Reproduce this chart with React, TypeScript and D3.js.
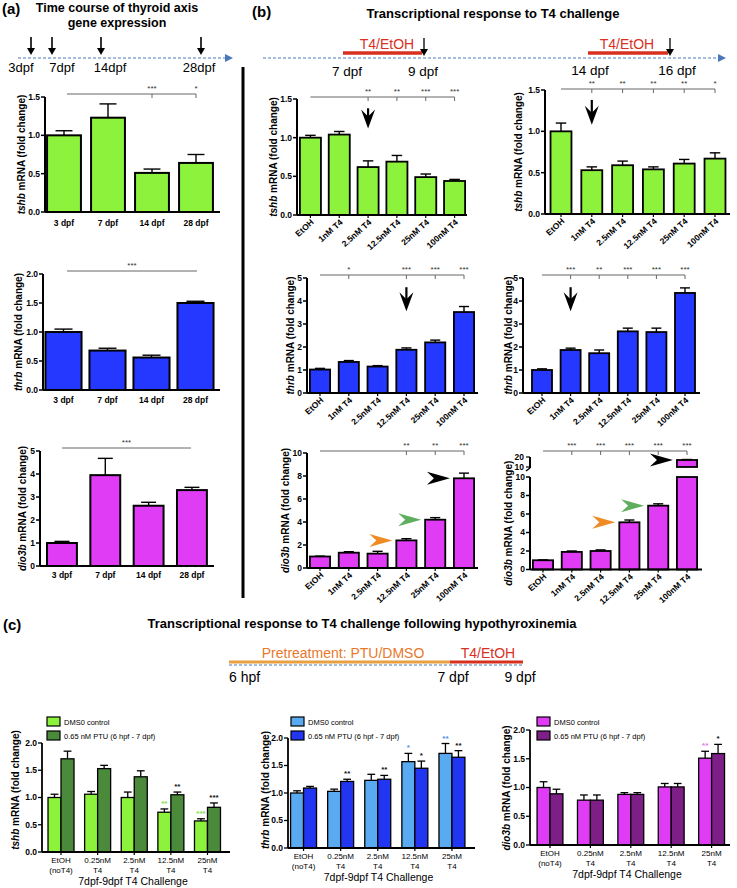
import React from "react";
import * as d3 from "d3";

const FONT = "'Liberation Sans', Arial, Helvetica, sans-serif";

// ---------- colours ----------
const GREEN = "#8cf23c";
const BLUE = "#2438ff";
const MAGENTA = "#e03cf5";
const DKGREEN = "#4b8a3b";
const LTBLUE = "#5aaaf2";
const DKBLUE = "#2235f0";
const PURPLE = "#7d1f87";
const ORANGE = "#f08a24";
const ARROWGREEN = "#5fae5f";
const RED = "#d7301f";
const TLBLUE = "#4a78b8";

// ---------- data (a) ----------
const timeCats = ["3 dpf", "7 dpf", "14 dpf", "28 dpf"];
const timelineA = ["3dpf", "7dpf", "14dpf", "28dpf"];
const aTshb = [1.0, 1.23, 0.51, 0.64];
const aTshbErr = [0.06, 0.18, 0.05, 0.11];
const aTshbSig = [null, null, "***", "*"];
const aThrb = [1.0, 0.68, 0.56, 1.5];
const aThrbErr = [0.05, 0.04, 0.04, 0.03];
const aDio3b = [1.0, 3.95, 2.62, 3.3];
const aDio3bErr = [0.07, 0.73, 0.15, 0.12];

// ---------- data (b) ----------
const doseCats = ["EtOH", "1nM T4", "2.5nM T4", "12.5nM T4", "25nM T4", "100nM T4"];
const b7Tshb = [1.0, 1.04, 0.62, 0.69, 0.49, 0.44];
const b7TshbErr = [0.03, 0.04, 0.08, 0.08, 0.04, 0.02];
const b7TshbSig = [null, null, "**", "**", "***", "***"];
const b14Tshb = [1.0, 0.53, 0.59, 0.54, 0.61, 0.67];
const b14TshbErr = [0.1, 0.04, 0.05, 0.03, 0.05, 0.07];
const b14TshbSig = [null, "**", "**", "**", "**", "*"];
const b7Thrb = [1.02, 1.35, 1.15, 1.88, 2.2, 3.52];
const b7ThrbErr = [0.05, 0.06, 0.04, 0.08, 0.1, 0.24];
const b7ThrbSig = [null, "*", null, "***", "***", "***"];
const b14Thrb = [1.0, 1.87, 1.73, 2.68, 2.65, 4.35];
const b14ThrbErr = [0.05, 0.08, 0.14, 0.14, 0.17, 0.22];
const b14ThrbSig = [null, "***", "**", "***", "***", "***"];
const b7Dio3b = [1.0, 1.33, 1.25, 2.4, 4.2, 7.8];
const b7Dio3bErr = [0.03, 0.09, 0.2, 0.15, 0.18, 0.45];
const b7Dio3bSig = [null, null, null, "**", "**", "***"];
const b14Dio3b = [1.0, 1.9, 2.0, 5.1, 6.9, 17.0];
const b14Dio3bErr = [0.04, 0.1, 0.12, 0.25, 0.2, 0.5];
const b14Dio3bSig = [null, "***", "***", "***", "***", "***"];

// ---------- data (c) ----------
const challengeCats = [["EtOH", "(noT4)"], ["0.25nM", "T4"], ["2.5nM", "T4"], ["12.5nM", "T4"], ["25nM", "T4"]];
const legendLabels = ["DMS0 control", "0.65 nM PTU (6 hpf - 7 dpf)"];
const cTshbCtrl = [1.0, 1.06, 1.0, 0.73, 0.57];
const cTshbCtrlErr = [0.06, 0.05, 0.1, 0.06, 0.04];
const cTshbPtu = [1.71, 1.53, 1.38, 1.05, 0.82];
const cTshbPtuErr = [0.14, 0.06, 0.11, 0.05, 0.08];
const cTshbCtrlSig = [null, null, null, "**", "***"];
const cTshbPtuSig = [null, null, null, "**", "***"];
const cThrbCtrl = [1.0, 1.03, 1.23, 1.57, 1.72];
const cThrbCtrlErr = [0.04, 0.04, 0.11, 0.15, 0.18];
const cThrbPtu = [1.09, 1.21, 1.25, 1.45, 1.65];
const cThrbPtuErr = [0.03, 0.04, 0.07, 0.13, 0.12];
const cThrbCtrlSig = [null, null, null, "*", "**"];
const cThrbPtuSig = [null, "**", "**", "*", "**"];
const cDio3bCtrl = [1.0, 0.78, 0.88, 1.01, 1.51];
const cDio3bCtrlErr = [0.1, 0.09, 0.03, 0.06, 0.12];
const cDio3bPtu = [0.89, 0.78, 0.88, 1.01, 1.59];
const cDio3bPtuErr = [0.08, 0.09, 0.03, 0.06, 0.16];
const cDio3bCtrlSig = [null, null, null, null, "**"];
const cDio3bPtuSig = [null, null, null, null, "*"];

const ticks15 = [0, 0.5, 1.0, 1.5];
const ticks20 = [0, 0.5, 1.0, 1.5, 2.0];
const ticks5 = [0, 1, 2, 3, 4, 5];
const ticks10 = [0, 2, 4, 6, 8, 10];

type Sig = (string | null)[];

function DownArrow({ x, y1, y2 }: { x: number; y1: number; y2: number }) {
  const h = 17;
  return (
    <g>
      <line x1={x} x2={x} y1={y1} y2={y2 - 10} stroke="#000" strokeWidth={2.2} />
      <path d={`M${x},${y2} L${x - 7},${y2 - h - 2} L${x},${y2 - h + 5} L${x + 7},${y2 - h - 2} Z`} fill="#000" />
    </g>
  );
}

function RightArrow({ x, y, color }: { x: number; y: number; color: string }) {
  const L = 23, hh = 6.5;
  return <path d={`M${x},${y} L${x - L},${y - hh} L${x - L + 7},${y} L${x - L},${y + hh} Z`} fill={color} />;
}

function TimeArrow({ x, y1, y2, w = 1.6 }: { x: number; y1: number; y2: number; w?: number }) {
  return (
    <g>
      <line x1={x} x2={x} y1={y1} y2={y2 - 6} stroke="#000" strokeWidth={w} />
      <path d={`M${x - 4},${y2 - 7} L${x + 4},${y2 - 7} L${x},${y2} Z`} fill="#000" />
    </g>
  );
}

function YLabel({ x, cy, gene, fs = 10 }: { x: number; cy: number; gene: string; fs?: number }) {
  return (
    <text transform={`translate(${x},${cy}) rotate(-90)`} textAnchor="middle" fontSize={fs} fontWeight="bold">
      <tspan fontStyle="italic">{gene}</tspan> mRNA (fold change)
    </text>
  );
}

interface BarCfg {
  cats: string[]; vals: number[]; errs: number[]; color: string;
  axisX: number; xr: [number, number]; pad: number; xEnd: number;
  y0: number; yTop: number; yMax: number; ticks: number[]; dec: number;
  gene: string; labelX: number; labelCy?: number;
  rot?: boolean; catY: number; stroke: number;
  sig?: Sig; sigY?: number; sigStart?: number; sigEnd?: number; sigCenter?: string;
  brk?: { min: number; max: number; bottom: number; top: number; ticks: number[] };
  down?: { cat: number; from: number; to: number };
  rights?: { cat: number; color: string }[];
}

function BarChart(p: BarCfg) {
  const x = d3.scaleBand<string>().domain(p.cats).range(p.xr).paddingInner(p.pad).paddingOuter(p.pad / 2);
  const yLow = d3.scaleLinear().domain([0, p.yMax]).range([p.y0, p.yTop]);
  const yUp = p.brk ? d3.scaleLinear().domain([p.brk.min, p.brk.max]).range([p.brk.bottom, p.brk.top]) : null;
  const ym = (v: number) => (yUp && v > p.yMax ? yUp(v) : yLow(v));
  const bw = x.bandwidth();
  const cx = (i: number) => (x(p.cats[i]) as number) + bw / 2;
  const cap = bw * 0.5;
  const fmt = (v: number) => v.toFixed(p.dec);
  const sigIdx = (p.sig || []).map((s, i) => (s ? i : -1)).filter((i) => i >= 0);
  const sStart = p.sigStart ?? cx(0);
  const sEnd = p.sigEnd ?? (sigIdx.length ? cx(sigIdx[sigIdx.length - 1]) : cx(p.cats.length - 1));
  return (
    <g>
      {p.vals.map((v, i) => {
        const x0 = x(p.cats[i]) as number;
        if (yUp && p.brk && v > p.yMax) {
          return (
            <g key={i}>
              <rect x={x0} y={yLow(p.yMax)} width={bw} height={p.y0 - yLow(p.yMax)} fill={p.color} stroke="#000" strokeWidth={p.stroke} />
              <rect x={x0} y={yUp(v)} width={bw} height={yUp(p.brk.min) - yUp(v)} fill={p.color} stroke="#000" strokeWidth={p.stroke} />
              <rect x={x0 - 2} y={yUp(p.brk.min) + 1} width={bw + 4} height={yLow(p.yMax) - yUp(p.brk.min) - 2} fill="#fff" />
            </g>
          );
        }
        return <rect key={i} x={x0} y={yLow(v)} width={bw} height={p.y0 - yLow(v)} fill={p.color} stroke="#000" strokeWidth={p.stroke} />;
      })}
      {p.vals.map((v, i) => {
        const top = ym(v + p.errs[i]);
        return (
          <g key={i} stroke="#000" strokeWidth={1.4}>
            <line x1={cx(i)} x2={cx(i)} y1={ym(v)} y2={top} />
            <line x1={cx(i) - cap / 2} x2={cx(i) + cap / 2} y1={top} y2={top} />
          </g>
        );
      })}
      <line x1={p.axisX} x2={p.axisX} y1={p.y0} y2={p.yTop} stroke="#000" strokeWidth={2} />
      {p.ticks.map((t) => (
        <g key={t}>
          <line x1={p.axisX - 4} x2={p.axisX} y1={yLow(t)} y2={yLow(t)} stroke="#000" strokeWidth={1.5} />
          <text x={p.axisX - 5} y={yLow(t)} dy="0.35em" textAnchor="end" fontSize={8.5} fontWeight="bold">{fmt(t)}</text>
        </g>
      ))}
      {p.brk && yUp && (
        <g>
          <line x1={p.axisX} x2={p.axisX} y1={yUp(p.brk.min) + 1} y2={yUp(p.brk.max)} stroke="#000" strokeWidth={2} />
          <line x1={p.axisX} x2={p.axisX - 4} y1={yUp(p.brk.min) + 1} y2={yUp(p.brk.min) + 4} stroke="#000" strokeWidth={1.5} />
          {p.brk.ticks.map((t) => (
            <g key={t}>
              <line x1={p.axisX - 4} x2={p.axisX} y1={yUp(t)} y2={yUp(t)} stroke="#000" strokeWidth={1.2} />
              <text x={p.axisX - 6} y={yUp(t)} dy="0.35em" textAnchor="end" fontSize={8.5} fontWeight="bold">{fmt(t)}</text>
            </g>
          ))}
        </g>
      )}
      <line x1={p.axisX} x2={p.xEnd} y1={p.y0} y2={p.y0} stroke="#000" strokeWidth={2} />
      {p.cats.map((c, i) =>
        p.rot ? (
          <g key={c}>
            <line x1={cx(i)} x2={cx(i)} y1={p.y0} y2={p.y0 + 3} stroke="#000" strokeWidth={1.2} />
            <text transform={`translate(${cx(i) + 4},${p.y0 + 8}) rotate(-42)`} textAnchor="end" fontSize={8.5} fontWeight="bold">{c}</text>
          </g>
        ) : (
          <text key={c} x={cx(i)} y={p.catY} textAnchor="middle" fontSize={8.5} fontWeight="bold">{c}</text>
        )
      )}
      <YLabel x={p.labelX} cy={p.labelCy ?? (p.y0 + p.yTop) / 2} gene={p.gene} />
      {p.sigY !== undefined && (
        <g>
          <line x1={sStart} x2={sEnd} y1={p.sigY} y2={p.sigY} stroke="#666" strokeWidth={1} />
          {p.sigCenter && (
            <text x={(sStart + sEnd) / 2} y={p.sigY - 3} textAnchor="middle" fontSize={8} fill="#333">{p.sigCenter}</text>
          )}
          {sigIdx.map((i) => (
            <g key={i}>
              <line x1={cx(i)} x2={cx(i)} y1={p.sigY!} y2={p.sigY! + 4} stroke="#666" strokeWidth={1} />
              <text x={cx(i)} y={p.sigY! - 3} textAnchor="middle" fontSize={8} fill="#333">{p.sig![i]}</text>
            </g>
          ))}
        </g>
      )}
      {p.down && <DownArrow x={cx(p.down.cat)} y1={yLow(p.down.from)} y2={yLow(p.down.to)} />}
      {p.rights &&
        p.rights.map((r) => (
          <RightArrow key={r.cat} x={(x(p.cats[r.cat]) as number) - 4} y={ym(p.vals[r.cat])} color={r.color} />
        ))}
    </g>
  );
}

interface GroupCfg {
  a: number[]; ae: number[]; b: number[]; be: number[];
  ca: string; cb: string; sa: Sig; sb: Sig; starColor: string;
  axisX: number; xr: [number, number]; pad: number; xEnd: number;
  y0: number; yTop: number; gene: string; labelX: number; labelCy: number;
  legX: number; legY: number;
}

function GroupChart(p: GroupCfg) {
  const keys = challengeCats.map((c) => c.join(" "));
  const x = d3.scaleBand<string>().domain(keys).range(p.xr).paddingInner(p.pad).paddingOuter(p.pad / 2);
  const xi = d3.scaleBand<string>().domain(["a", "b"]).range([0, x.bandwidth()]);
  const y = d3.scaleLinear().domain([0, 2]).range([p.y0, p.yTop]);
  const bw = xi.bandwidth();
  const series = [
    { k: "a", v: p.a, e: p.ae, c: p.ca, s: p.sa, sc: p.starColor },
    { k: "b", v: p.b, e: p.be, c: p.cb, s: p.sb, sc: "#111" },
  ];
  return (
    <g>
      {series.map((s) =>
        s.v.map((v, i) => {
          const x0 = (x(keys[i]) as number) + (xi(s.k) as number);
          const c = x0 + bw / 2;
          const top = y(v + s.e[i]);
          return (
            <g key={s.k + i}>
              <line x1={c} x2={c} y1={y(v)} y2={top} stroke="#000" strokeWidth={1.3} />
              <line x1={c - bw * 0.3} x2={c + bw * 0.3} y1={top} y2={top} stroke="#000" strokeWidth={1.3} />
              <rect x={x0} y={y(v)} width={bw} height={p.y0 - y(v)} fill={s.c} stroke="#000" strokeWidth={1.3} />
              {s.s[i] && (
                <text x={c} y={top - 3} textAnchor="middle" fontSize={8} fontWeight="bold" fill={s.sc}>{s.s[i]}</text>
              )}
            </g>
          );
        })
      )}
      <line x1={p.axisX} x2={p.axisX} y1={p.y0} y2={p.yTop} stroke="#000" strokeWidth={1.8} />
      {ticks20.map((t) => (
        <g key={t}>
          <line x1={p.axisX - 4} x2={p.axisX} y1={y(t)} y2={y(t)} stroke="#000" strokeWidth={1.3} />
          <text x={p.axisX - 5} y={y(t)} dy="0.35em" textAnchor="end" fontSize={8.5} fontWeight="bold">{t.toFixed(1)}</text>
        </g>
      ))}
      <line x1={p.axisX} x2={p.xEnd} y1={p.y0} y2={p.y0} stroke="#000" strokeWidth={1.8} />
      {challengeCats.map((c, i) => {
        const cx = (x(keys[i]) as number) + x.bandwidth() / 2;
        return (
          <g key={i}>
            <line x1={cx} x2={cx} y1={p.y0} y2={p.y0 + 3} stroke="#000" strokeWidth={1.2} />
            <text x={cx} y={p.y0 + 11} textAnchor="middle" fontSize={8}>{c[0]}</text>
            <text x={cx} y={p.y0 + 21} textAnchor="middle" fontSize={8}>{c[1]}</text>
          </g>
        );
      })}
      <text x={(p.axisX + p.xEnd) / 2 - 3} y={p.y0 + 33} textAnchor="middle" fontSize={10.5}>7dpf-9dpf T4 Challenge</text>
      <YLabel x={p.labelX} cy={p.labelCy} gene={p.gene} />
      {[p.ca, p.cb].map((c, i) => (
        <g key={c}>
          <rect x={p.legX} y={p.legY + i * 14} width={13} height={9} fill={c} stroke="#000" strokeWidth={1.2} />
          <text x={p.legX + 17} y={p.legY + i * 14 + 8} fontSize={7.5}>{legendLabels[i]}</text>
        </g>
      ))}
    </g>
  );
}

const aArrowX = [31, 52, 101, 201];
const aLabelX = [21, 62, 110, 199];

export default function App() {
  return (
    <svg width={737} height={888} style={{ position: "absolute", left: 0, top: 0, background: "#fff" }} fontFamily={FONT}>
      <rect width={737} height={888} fill="#fff" />

      {/* ===== (a) ===== */}
      <text x={2} y={14} fontSize={15} fontWeight="bold">(a)</text>
      <text x={117} y={12} textAnchor="middle" fontSize={12.5} fontWeight="bold">Time course of thyroid axis</text>
      <text x={117} y={27} textAnchor="middle" fontSize={12.5} fontWeight="bold">gene expression</text>
      <line x1={18} x2={226} y1={58} y2={58} stroke={TLBLUE} strokeWidth={1} strokeDasharray="3,2" />
      <path d="M225,54 L233,58 L225,62 Z" fill={TLBLUE} />
      {aArrowX.map((x) => <TimeArrow key={x} x={x} y1={37} y2={55} />)}
      {timelineA.map((t, i) => (
        <text key={t} x={aLabelX[i]} y={72} textAnchor="middle" fontSize={13}>{t}</text>
      ))}

      <BarChart cats={timeCats} vals={aTshb} errs={aTshbErr} color={GREEN} axisX={45} xr={[42, 218]} pad={0.23} xEnd={220}
        y0={212} yTop={97} yMax={1.5} ticks={ticks15} dec={1} gene="tshb" labelX={25} catY={226} stroke={2}
        sig={aTshbSig} sigY={94} sigStart={67} />
      <BarChart cats={timeCats} vals={aThrb} errs={aThrbErr} color={BLUE} axisX={43} xr={[41.5, 217.5]} pad={0.18} xEnd={220}
        y0={390} yTop={274} yMax={2} ticks={ticks20} dec={1} gene="thrb" labelX={22} catY={403} stroke={2}
        sigY={271} sigStart={67} sigEnd={197} sigCenter="***" />
      <BarChart cats={timeCats} vals={aDio3b} errs={aDio3bErr} color={MAGENTA} axisX={40} xr={[40.3, 213.6]} pad={0.31} xEnd={214}
        y0={566} yTop={451} yMax={5} ticks={ticks5} dec={0} gene="dio3b" labelX={26} catY={578} stroke={2}
        sigY={448} sigStart={62} sigEnd={191} sigCenter="***" />

      <line x1={243} x2={243} y1={67} y2={598} stroke="#000" strokeWidth={3} />

      {/* ===== (b) ===== */}
      <text x={252} y={17} fontSize={15} fontWeight="bold">(b)</text>
      <text x={493} y={18} textAnchor="middle" fontSize={13} fontWeight="bold">Transcriptional response to T4 challenge</text>
      <line x1={263} x2={719} y1={58} y2={58} stroke={TLBLUE} strokeWidth={1} strokeDasharray="3,2" />
      <path d="M718,54 L726,58 L718,62 Z" fill={TLBLUE} />
      <line x1={343} x2={422} y1={53} y2={53} stroke={RED} strokeWidth={3.5} />
      <line x1={588} x2={668} y1={53} y2={53} stroke={RED} strokeWidth={3.5} />
      <text x={387} y={49} textAnchor="middle" fontSize={14} fill={RED}>T4/EtOH</text>
      <text x={627} y={49} textAnchor="middle" fontSize={14} fill={RED}>T4/EtOH</text>
      <TimeArrow x={424} y1={38} y2={56} w={1.3} />
      <TimeArrow x={670} y1={38} y2={56} w={1.3} />
      <text x={347} y={76} textAnchor="middle" fontSize={13.5}>7 dpf</text>
      <text x={423} y={76} textAnchor="middle" fontSize={13.5}>9 dpf</text>
      <text x={590} y={75} textAnchor="middle" fontSize={13.5}>14 dpf</text>
      <text x={677} y={75} textAnchor="middle" fontSize={13.5}>16 dpf</text>

      <BarChart cats={doseCats} vals={b7Tshb} errs={b7TshbErr} color={GREEN} axisX={297} xr={[296, 469]} pad={0.27} xEnd={467}
        y0={215} yTop={99} yMax={1.5} ticks={ticks15} dec={1} gene="tshb" labelX={277} rot catY={0} stroke={1.8}
        sig={b7TshbSig} sigY={97} down={{ cat: 2, from: 1.38, to: 1.12 }} />
      <BarChart cats={doseCats} vals={b14Tshb} errs={b14TshbErr} color={GREEN} axisX={545} xr={[545.6, 730.4]} pad={0.32} xEnd={730}
        y0={214} yTop={90} yMax={1.5} ticks={ticks15} dec={1} gene="tshb" labelX={522} rot catY={0} stroke={1.8}
        sig={b14TshbSig} sigY={89} down={{ cat: 1, from: 1.38, to: 1.08 }} />
      <BarChart cats={doseCats} vals={b7Thrb} errs={b7ThrbErr} color={BLUE} axisX={307} xr={[305.6, 478.4]} pad={0.3} xEnd={478}
        y0={393} yTop={278} yMax={5} ticks={ticks5} dec={0} gene="thrb" labelX={294} rot catY={0} stroke={1.8}
        sig={b7ThrbSig} sigY={275} down={{ cat: 3, from: 4.6, to: 3.55 }} />
      <BarChart cats={doseCats} vals={b14Thrb} errs={b14ThrbErr} color={BLUE} axisX={523} xr={[527.7, 699.3]} pad={0.3} xEnd={700}
        y0={393} yTop={278} yMax={5} ticks={ticks5} dec={0} gene="thrb" labelX={512} rot catY={0} stroke={1.8}
        sig={b14ThrbSig} sigY={275} down={{ cat: 1, from: 4.6, to: 3.55 }} />
      <BarChart cats={doseCats} vals={b7Dio3b} errs={b7Dio3bErr} color={MAGENTA} axisX={307} xr={[305.6, 478.4]} pad={0.3} xEnd={478}
        y0={568} yTop={453} yMax={10} ticks={ticks10} dec={0} gene="dio3b" labelX={289} rot catY={0} stroke={1.8}
        sig={b7Dio3bSig} sigY={451}
        rights={[{ cat: 3, color: ORANGE }, { cat: 4, color: ARROWGREEN }, { cat: 5, color: "#000" }]} />
      <BarChart cats={doseCats} vals={b14Dio3b} errs={b14Dio3bErr} color={MAGENTA} axisX={530} xr={[528.6, 701.4]} pad={0.3} xEnd={702}
        y0={569.5} yTop={477} yMax={10} ticks={ticks10} dec={0} gene="dio3b" labelX={512} rot catY={0} stroke={1.8}
        sig={b14Dio3bSig} sigY={451}
        brk={{ min: 10, max: 20, bottom: 467, top: 457, ticks: [10, 20] }}
        rights={[{ cat: 3, color: ORANGE }, { cat: 4, color: ARROWGREEN }, { cat: 5, color: "#000" }]} />

      {/* ===== (c) ===== */}
      <text x={3} y={630} fontSize={15} fontWeight="bold">(c)</text>
      <text x={362} y={628} textAnchor="middle" fontSize={13} fontWeight="bold">
        Transcriptional response to T4 challenge following hypothyroxinemia
      </text>
      <line x1={229} x2={524} y1={665} y2={665} stroke={TLBLUE} strokeWidth={1} strokeDasharray="3,2" />
      <line x1={229} x2={450} y1={662} y2={662} stroke="#e8a040" strokeWidth={3} />
      <line x1={450} x2={523} y1={662} y2={662} stroke={RED} strokeWidth={3} />
      <text x={343} y={658} textAnchor="middle" fontSize={14} fill="#e8782a">Pretreatment: PTU/DMSO</text>
      <text x={488} y={658} textAnchor="middle" fontSize={14} fill={RED}>T4/EtOH</text>
      <text x={229} y={682} fontSize={14}>6 hpf</text>
      <text x={453} y={682} textAnchor="middle" fontSize={14}>7 dpf</text>
      <text x={520} y={682} textAnchor="middle" fontSize={14}>9 dpf</text>

      <GroupChart a={cTshbCtrl} ae={cTshbCtrlErr} b={cTshbPtu} be={cTshbPtuErr} ca={GREEN} cb={DKGREEN}
        sa={cTshbCtrlSig} sb={cTshbPtuSig} starColor="#7ee04a"
        axisX={42} xr={[42.7, 225.8]} pad={0.29} xEnd={230} y0={852} yTop={743} gene="tshb" labelX={19} labelCy={790}
        legX={47} legY={717} />
      <GroupChart a={cThrbCtrl} ae={cThrbCtrlErr} b={cThrbPtu} be={cThrbPtuErr} ca={LTBLUE} cb={DKBLUE}
        sa={cThrbCtrlSig} sb={cThrbPtuSig} starColor="#4a8df0"
        axisX={288} xr={[285, 470.5]} pad={0.3} xEnd={475} y0={848} yTop={738} gene="thrb" labelX={269} labelCy={790}
        legX={291} legY={717} />
      <GroupChart a={cDio3bCtrl} ae={cDio3bCtrlErr} b={cDio3bPtu} be={cDio3bPtuErr} ca={MAGENTA} cb={PURPLE}
        sa={cDio3bCtrlSig} sb={cDio3bPtuSig} starColor="#e070f0"
        axisX={530} xr={[529.8, 731.8]} pad={0.36} xEnd={730} y0={845} yTop={730} gene="dio3b" labelX={510} labelCy={788}
        legX={537} legY={717} />
    </svg>
  );
}
